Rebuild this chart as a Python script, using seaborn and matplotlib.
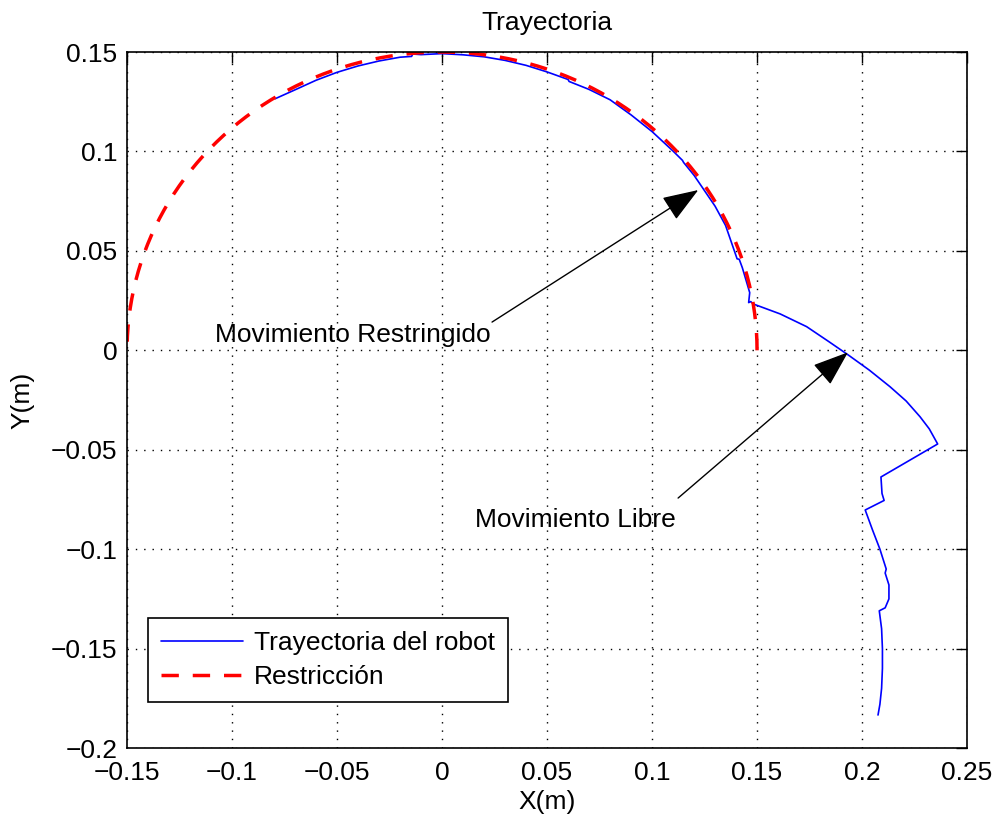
import numpy as np
import pandas as pd
import seaborn as sns
import matplotlib.pyplot as plt

# robot trajectory
robot_x = [-0.0795, -0.070, -0.060, -0.050, -0.040, -0.030, -0.020, -0.0145, -0.0140,
           -0.010, 0.000, 0.010, 0.020, 0.030, 0.040, 0.050, 0.060, 0.0605, 0.070,
           0.080, 0.090, 0.100, 0.110, 0.1145, 0.1150, 0.120, 0.130, 0.135, 0.1405,
           0.1415, 0.143, 0.1465, 0.1460, 0.1470, 0.1482, 0.161, 0.1736, 0.184, 0.1935,
           0.2035, 0.2133, 0.221, 0.2276, 0.232, 0.236, 0.2090, 0.2095, 0.2105, 0.2015,
           0.205, 0.2085, 0.2115, 0.2110, 0.2128, 0.2128, 0.2110, 0.2082, 0.2093,
           0.2097, 0.2097, 0.2093, 0.2085, 0.2076]
robot_y = [0.1265, 0.1310, 0.1358, 0.1398, 0.1430, 0.1455, 0.1474, 0.1478, 0.1490,
           0.1487, 0.1492, 0.1486, 0.1476, 0.1458, 0.1433, 0.1400, 0.1362, 0.1352, 0.1312,
           0.1260, 0.1184, 0.1100, 0.1002, 0.0955, 0.0945, 0.0880, 0.0725, 0.0628, 0.0460,
           0.0458, 0.0415, 0.0290, 0.0240, 0.0245, 0.0233, 0.0183, 0.0119, 0.0045, -0.0024,
           -0.0100, -0.0183, -0.0255, -0.0334, -0.0395, -0.0471, -0.0637, -0.0720, -0.0755, -0.0803,
           -0.0904, -0.1000, -0.1100, -0.1120, -0.1180, -0.1250, -0.1295, -0.1310, -0.1400,
           -0.1500, -0.1600, -0.1700, -0.1780, -0.1834]

# constraint: upper half circle
restriction_radius = 0.15
restriction_angle = np.linspace(0, np.pi, 200)

x_ticks = [-0.15, -0.1, -0.05, 0, 0.05, 0.1, 0.15, 0.2, 0.25]
x_labels = ['\u22120.15', '\u22120.1', '\u22120.05', '0', '0.05', '0.1', '0.15', '0.2', '0.25']
y_ticks = [-0.2, -0.15, -0.1, -0.05, 0, 0.05, 0.1, 0.15]
y_labels = ['\u22120.2', '\u22120.15', '\u22120.1', '\u22120.05', '0', '0.05', '0.1', '0.15']

robot = pd.DataFrame({'x': robot_x, 'y': robot_y})
restriction = pd.DataFrame({'x': restriction_radius * np.cos(restriction_angle),
                            'y': restriction_radius * np.sin(restriction_angle)})

sns.set_style("white")
plt.rcParams['font.family'] = ['Liberation Sans', 'DejaVu Sans']
plt.rcParams['text.color'] = 'black'
plt.rcParams['axes.labelcolor'] = 'black'
plt.rcParams['xtick.color'] = 'black'
plt.rcParams['ytick.color'] = 'black'
fs = 19

fig = plt.figure(figsize=(9.98, 8.22), dpi=100)
ax = fig.add_axes([0.1273, 0.090, 0.8417, 0.8467])

sns.lineplot(data=robot, x='x', y='y', sort=False, estimator=None, color='#0000ff',
             linewidth=1.2, label='Trayectoria del robot', ax=ax)
sns.lineplot(data=restriction, x='x', y='y', sort=False, estimator=None, color='#ff0000',
             linewidth=2.5, label='Restricción', ax=ax)
ax.lines[1].set_dashes((5, 4))

ax.set_xlim(-0.15, 0.25)
ax.set_ylim(-0.2, 0.15)
ax.set_xticks(x_ticks)
ax.set_xticklabels(x_labels)
ax.set_yticks(y_ticks)
ax.set_yticklabels(y_labels)
ax.tick_params(direction='in', length=8, width=1, top=True, right=True,
               labelsize=fs, color='black', labelcolor='black')
ax.tick_params(axis='x', pad=9)
ax.tick_params(axis='y', pad=7)
ax.grid(True, linestyle=(0, (1, 5)), color='black', linewidth=1)
for s in ax.spines.values():
    s.set_color('black')
    s.set_linewidth(1.2)

ax.set_title('Trayectoria', fontsize=fs, pad=16, color='black')
ax.set_xlabel('X(m)', fontsize=fs, labelpad=4)
ax.set_ylabel('Y(m)', fontsize=fs, labelpad=12)

# annotations: arrows start at the right end of each label
arrow = dict(arrowstyle='-|>,head_length=0.9,head_width=0.33', mutation_scale=25,
             color='black', linewidth=1, shrinkA=0, shrinkB=0)
ax.text(-0.0425, 0.0075, 'Movimiento Restringido', fontsize=fs, ha='center', va='center')
ax.annotate('', xy=(0.122, 0.0806), xytext=(0.0238, 0.0142), arrowprops=arrow)
ax.text(0.0635, -0.0855, 'Movimiento Libre', fontsize=fs, ha='center', va='center')
ax.annotate('', xy=(0.1933, -0.001), xytext=(0.1124, -0.0743), arrowprops=arrow)

leg = ax.legend(loc='lower left', bbox_to_anchor=(0.025, 0.066), borderaxespad=0,
                fontsize=fs, frameon=True, fancybox=False, edgecolor='black',
                framealpha=1, handlelength=3.1, borderpad=0.5, labelspacing=0.38,
                handletextpad=0.4)
leg.get_frame().set_linewidth(1.2)
for t in leg.get_texts():
    t.set_color('black')

fig.savefig('out.png', dpi=100)
